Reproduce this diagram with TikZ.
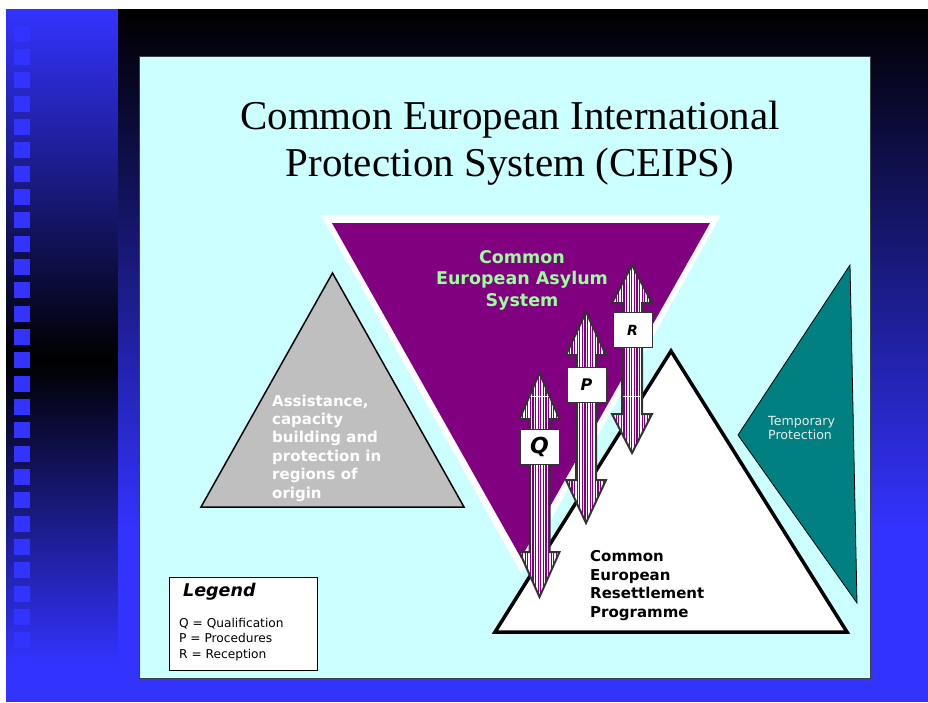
\documentclass[tikz,border=0pt]{standalone}
\usepackage{fontspec}
\setmainfont{Liberation Serif}
\newfontfamily\verdfont{DejaVu Sans}
\usetikzlibrary{patterns.meta}
\definecolor{slideblue}{HTML}{3333FF}
\definecolor{panelcyan}{HTML}{CCFFFF}
\definecolor{asylumpurple}{HTML}{800080}
\definecolor{asylumgreen}{HTML}{99FF99}
\definecolor{tpteal}{HTML}{008080}
\definecolor{arrowgray}{HTML}{333333}
\tikzset{
  blockarrow/.style={preaction={fill=white}, pattern={Lines[angle=90,distance=2.6pt,line width=1.1pt]},
    pattern color=asylumpurple, draw=arrowgray, line width=2, line join=miter},
  letterbox/.style={draw=arrowgray, fill=white, line width=1, minimum width=39, minimum height=35,
    inner sep=0, font=\verdfont\bfseries\itshape},
  boldtext/.style={font=\verdfont\bfseries\fontsize{15}{18.4}\selectfont, align=left, anchor=base west, inner sep=0},
}
\newcommand{\dblblock}[5]{%
  \filldraw[blockarrow] (#1,#2) -- (#1+20,#3) -- (#1+10,#3) -- (#1+10,#4) -- (#1+20,#4) -- (#1,#5)
    -- (#1-20,#4) -- (#1-10,#4) -- (#1-10,#3) -- (#1-20,#3) -- cycle;}
\begin{document}
\begin{tikzpicture}[x=1pt, y=-1pt]
  \useasboundingbox (0,0) rectangle (928,702);
  \fill[white] (0,0) rectangle (928,702);
  \shade[top color=slideblue, bottom color=black] (6,9) rectangle (118,360);
  \shade[top color=black, bottom color=slideblue] (6,359.5) rectangle (118,665);
  \fill[slideblue] (6,664.5) rectangle (118,702);
  \shade[top color=black, bottom color=slideblue] (118,9) rectangle (928,530);
  \fill[slideblue] (118,529.5) rectangle (928,702);
  \foreach \i in {0,...,28}
    \fill[slideblue] (14,25.7+23.33*\i) rectangle ++(16,16);

  \filldraw[fill=panelcyan, draw=black!75, line width=1] (139,56) rectangle (870,678);
  \node[align=center, font=\fontsize{41}{47}\selectfont, anchor=base, inner sep=0] (title) at (510,176)
    {Common European International\\Protection System (CEIPS)};

  \coordinate (ceasl) at (332,223);
  \coordinate (ceasr) at (710,223);
  \coordinate (ceasb) at (521,558);
  \fill[white] (321,215) -- (721,215) -- (521,573) -- cycle;
  \fill[asylumpurple] (ceasl) -- (ceasr) -- (ceasb) -- cycle;
  \node[align=center, font=\verdfont\bfseries\fontsize{17.5}{21.5}\selectfont, text=asylumgreen,
    anchor=base, inner sep=0] (ceas) at (522,306) {Common\\European Asylum\\System};

  \filldraw[fill=black!25, draw=black, line width=1.5, line join=miter]
    (332.5,273) -- (464,507) -- (201,507) -- cycle;
  \node[boldtext, text=white] (origin) at (272,498)
    {Assistance,\\capacity\\building and\\protection in\\regions of\\origin};

  \filldraw[fill=tpteal, draw=black, line width=0.8] (850,265) -- (857,603) -- (738,435) -- cycle;
  \node[font=\verdfont\fontsize{12.6}{14}\selectfont, text=black!8, align=left, anchor=base west,
    inner sep=0] (tp) at (768,439) {Temporary\\Protection};

  \filldraw[fill=white, draw=black, line width=3.5, line join=miter]
    (671,351) -- (847,632) -- (495,632) -- cycle;
  \node[boldtext, text=black] (cerp) at (590,617)
    {Common\\European\\Resettlement\\Programme};

  \dblblock{632}{265}{303}{414}{453}
  \dblblock{586}{312}{355}{480}{523}
  \dblblock{539.5}{373}{419}{552}{597}
  \node[letterbox, font=\verdfont\bfseries\itshape\fontsize{14}{14}\selectfont] (boxr) at (632.5,330) {R};
  \node[letterbox, font=\verdfont\bfseries\itshape\fontsize{16}{16}\selectfont] (boxp) at (586.5,384.5) {P};
  \node[letterbox, font=\verdfont\bfseries\itshape\fontsize{22}{22}\selectfont] (boxq) at (539.5,446.5) {Q};

  \filldraw[fill=white, draw=black, line width=1] (169,577) rectangle (317,670);
  \node[font=\verdfont\bfseries\itshape\fontsize{17.5}{18}\selectfont, anchor=base west, inner sep=0]
    (legend) at (183,596) {Legend};
  \node[font=\verdfont\fontsize{12.2}{15.5}\selectfont, align=left, anchor=base west, inner sep=0]
    (legtext) at (179,658) {Q = Qualification\\P = Procedures\\R = Reception};
\end{tikzpicture}
\end{document}
